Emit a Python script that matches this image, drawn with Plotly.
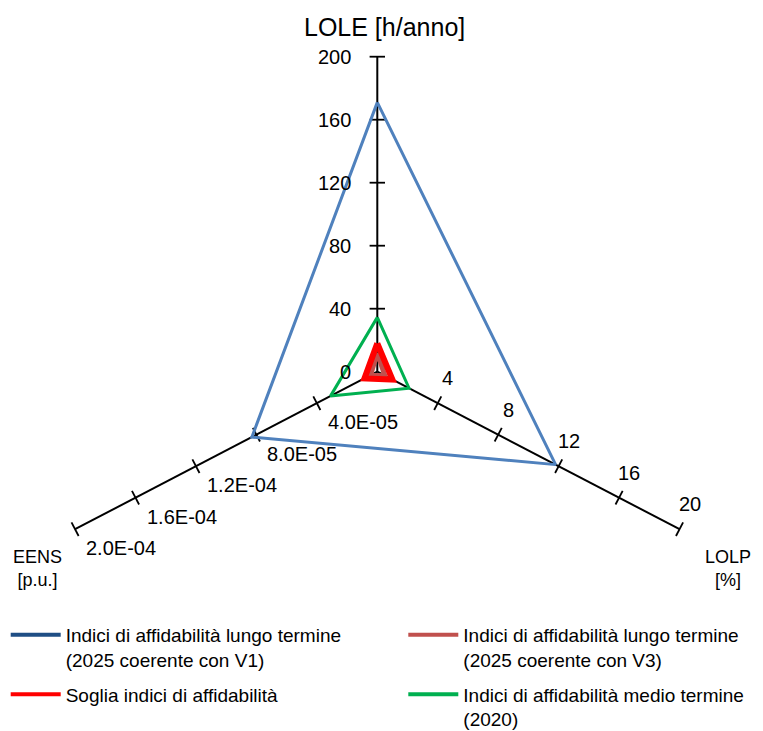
import math
import plotly.graph_objects as go

# Axes of the radar (each one has its own scale)
axes_names = ["LOLE", "LOLP", "EENS"]
axes_max = [200, 20, 2.0e-4]
axes_angle = [90, -30, 210]

lole_ticks = [0, 40, 80, 120, 160, 200]
lole_labels = ["0", "40", "80", "120", "160", "200"]
lolp_ticks = [4, 8, 12, 16, 20]
lolp_labels = ["4", "8", "12", "16", "20"]
eens_ticks = [4.0e-5, 8.0e-5, 1.2e-4, 1.6e-4, 2.0e-4]
eens_labels = ["4.0E-05", "8.0E-05", "1.2E-04", "1.6E-04", "2.0E-04"]

# Series values: [LOLE h/anno, LOLP %, EENS p.u.]
v1 = [171, 11.8, 8.3e-5]
v3 = [12, 0.5, 4.5e-6]
soglia = [18, 1.0, 8.5e-6]
medio = [34.5, 2.1, 3.1e-5]

OFF = 8                     # page body margin
FW, FH = 763 - OFF, 731 - OFF
CX, CY = 377.3 - OFF, 371.7 - OFF   # centre of the radar in figure pixels
X_PX, Y_PX = 349, 315      # pixels per unit radius (chart is stretched horizontally)
FONT = "Arial, Liberation Sans, sans-serif"


def px(x):
    return (x - OFF) / FW


def py(y):
    return 1 - (y - OFF) / FH


def polar_xy(i, value):
    r = value / axes_max[i]
    a = math.radians(axes_angle[i])
    return r * math.cos(a), r * math.sin(a)


def triangle(vals):
    pts = [polar_xy(i, v) for i, v in enumerate(vals)]
    pts.append(pts[0])
    return [p[0] for p in pts], [p[1] for p in pts]


fig = go.Figure()

# axis lines
for i in range(3):
    x0, y0 = polar_xy(i, 0)
    x1, y1 = polar_xy(i, axes_max[i])
    fig.add_trace(go.Scatter(x=[x0, x1], y=[y0, y1], mode="lines",
                             line=dict(color="black", width=2),
                             showlegend=False, hoverinfo="skip"))

# tick marks (perpendicular to each axis)
tilt = math.degrees(math.atan2(0.5 * Y_PX, math.cos(math.radians(30)) * X_PX))
tick_sets = [(0, lole_ticks[1:], 0), (1, lolp_ticks, tilt - 90), (2, eens_ticks, 90 - tilt)]
for i, ticks, ang in tick_sets:
    pts = [polar_xy(i, t) for t in ticks]
    fig.add_trace(go.Scatter(x=[p[0] for p in pts], y=[p[1] for p in pts], mode="markers",
                             marker=dict(symbol="line-ew", size=11, angle=ang,
                                         line=dict(color="black", width=1.8)),
                             showlegend=False, hoverinfo="skip"))

# series
series = [
    (v1, "#4F81BD", 3),
    (v3, "#C0504D", 5),
    (soglia, "#FF0000", 6),
    (medio, "#00B050", 3),
]
for vals, col, w in series:
    xs, ys = triangle(vals)
    fig.add_trace(go.Scatter(x=xs, y=ys, mode="lines",
                             line=dict(color=col, width=w),
                             showlegend=False))

# legend entries, two columns
legend_items = [
    ("Indici di affidabilità lungo termine<br>(2025 coerente con V1)", "#1F4E85", "legend"),
    ("Soglia indici di affidabilità", "#FF0000", "legend"),
    ("Indici di affidabilità lungo termine<br>(2025 coerente con V3)", "#C0504D", "legend2"),
    ("Indici di affidabilità medio termine<br>(2020)", "#00B050", "legend2"),
]
for k, (name, col, leg) in enumerate(legend_items):
    fig.add_trace(go.Scatter(x=[None], y=[None], mode="lines", name=name,
                             legend=leg, legendgroup=str(k),
                             line=dict(color=col, width=4)))

# tick labels
annotations = []
for t, lab in zip(lole_ticks, lole_labels):
    x, y = polar_xy(0, t)
    annotations.append(dict(x=x, y=y, text=lab, showarrow=False, xanchor="right",
                            yanchor="middle", xshift=-24, font=dict(size=20)))
for t, lab in zip(lolp_ticks, lolp_labels):
    x, y = polar_xy(1, t)
    annotations.append(dict(x=x, y=y, text=lab, showarrow=False, xanchor="center",
                            yanchor="middle", xshift=10, yshift=25, font=dict(size=20)))
for t, lab in zip(eens_ticks, eens_labels):
    x, y = polar_xy(2, t)
    annotations.append(dict(x=x, y=y, text=lab, showarrow=False, xanchor="left",
                            yanchor="middle", xshift=9, yshift=-19, font=dict(size=20)))

# axis titles
titles = [("LOLE [h/anno]", 384, 27, 25), ("EENS<br>[p.u.]", 37, 568, 18),
          ("LOLP<br>[%]", 728, 568, 18)]
for text, tx, ty, size in titles:
    annotations.append(dict(xref="paper", yref="paper", x=px(tx), y=py(ty),
                            xanchor="center", yanchor="middle",
                            text=text, showarrow=False, font=dict(size=size)))

leg_common = dict(orientation="v", yanchor="top", xanchor="left", valign="top",
                  itemwidth=50, traceorder="grouped", tracegroupgap=7,
                  font=dict(size=19), bgcolor="rgba(0,0,0,0)")

fig.update_layout(
    width=FW, height=FH,
    margin=dict(l=0, r=0, t=0, b=0, autoexpand=False),
    paper_bgcolor="white", plot_bgcolor="white",
    font=dict(family=FONT, color="black"),
    xaxis=dict(range=[-CX / X_PX, (FW - CX) / X_PX], visible=False, fixedrange=True),
    yaxis=dict(range=[-(FH - CY) / Y_PX, CY / Y_PX], visible=False, fixedrange=True),
    annotations=annotations,
    legend=dict(x=px(11.7 - 6), y=py(616), **leg_common),
    legend2=dict(x=px(409.3 - 6), y=py(616), **leg_common),
)

fig.write_html("out.html")
